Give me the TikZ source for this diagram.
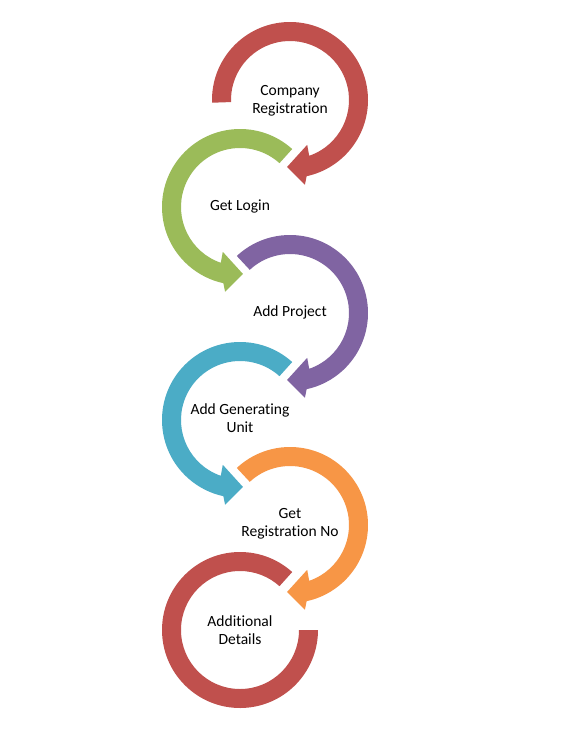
\documentclass[tikz,border=0pt]{standalone}
\usepackage{fontspec}
\setmainfont{Carlito}[Ligatures=NoCommon]
\usetikzlibrary{calc}

\definecolor{stepred}{HTML}{C0504D}
\definecolor{stepgreen}{HTML}{9BBB59}
\definecolor{steppurple}{HTML}{8064A2}
\definecolor{stepcyan}{HTML}{4BACC6}
\definecolor{steporange}{HTML}{F79646}

% clockwise ring arrow: centre, colour, start angle
\newcommand{\cwring}[3]{%
  \fill[#2,shift={(#1)}] (#3:78) arc[start angle=#3,end angle=-77.7,radius=78]
    -- (-80:86) -- (-92.5:67) -- (-69:48) -- (-71:59)
    arc[start angle=-71,end angle=#3,radius=59] -- cycle;}
% counter-clockwise ring arrow: centre, colour, start angle
\newcommand{\ccwring}[3]{%
  \fill[#2,shift={(#1)}] (#3:78) arc[start angle=#3,end angle=257.7,radius=78]
    -- (260:86) -- (272.5:67) -- (249:48) -- (251:59)
    arc[start angle=251,end angle=#3,radius=59] -- cycle;}

\tikzset{
  steplabel/.style={align=center,inner sep=0pt,
    font=\fontsize{15.6}{18.5}\selectfont}
}

\begin{document}
\begin{tikzpicture}[x=1bp,y=1bp]
  \useasboundingbox (0,0) rectangle (586,-740);
  \fill[white] (0,0) rectangle (586,-740);

  \coordinate (c1) at (290,-100);
  \coordinate (c2) at (240,-207);
  \coordinate (c3) at (290,-313);
  \coordinate (c4) at (240,-420);
  \coordinate (c5) at (290,-525);
  \coordinate (c6) at (240,-630);

  \cwring{c1}{stepred}{182}
  \ccwring{c2}{stepgreen}{48}
  \cwring{c3}{steppurple}{133}
  \ccwring{c4}{stepcyan}{48}
  \cwring{c5}{steporange}{133}
  % last ring, no head
  \fill[stepred,shift={(c6)}] (48:78) arc[start angle=48,end angle=360,radius=78]
    -- (0:59) arc[start angle=360,end angle=48,radius=59] -- cycle;

  \node[steplabel] (company) at ($(c1)+(0,-1)$) {Company\\Registration};
  \node[steplabel] (login) at ($(c2)+(0,1)$) {Get Login};
  \node[steplabel] (project) at ($(c3)+(0,1)$) {Add Project};
  \node[steplabel] (unit) at ($(c4)+(0,2)$) {Add Generating\\Unit};
  \node[steplabel] (regno) at ($(c5)+(0,1)$) {Get\\Registration No};
  \node[steplabel] (details) at (c6) {Additional\\Details};
\end{tikzpicture}
\end{document}
